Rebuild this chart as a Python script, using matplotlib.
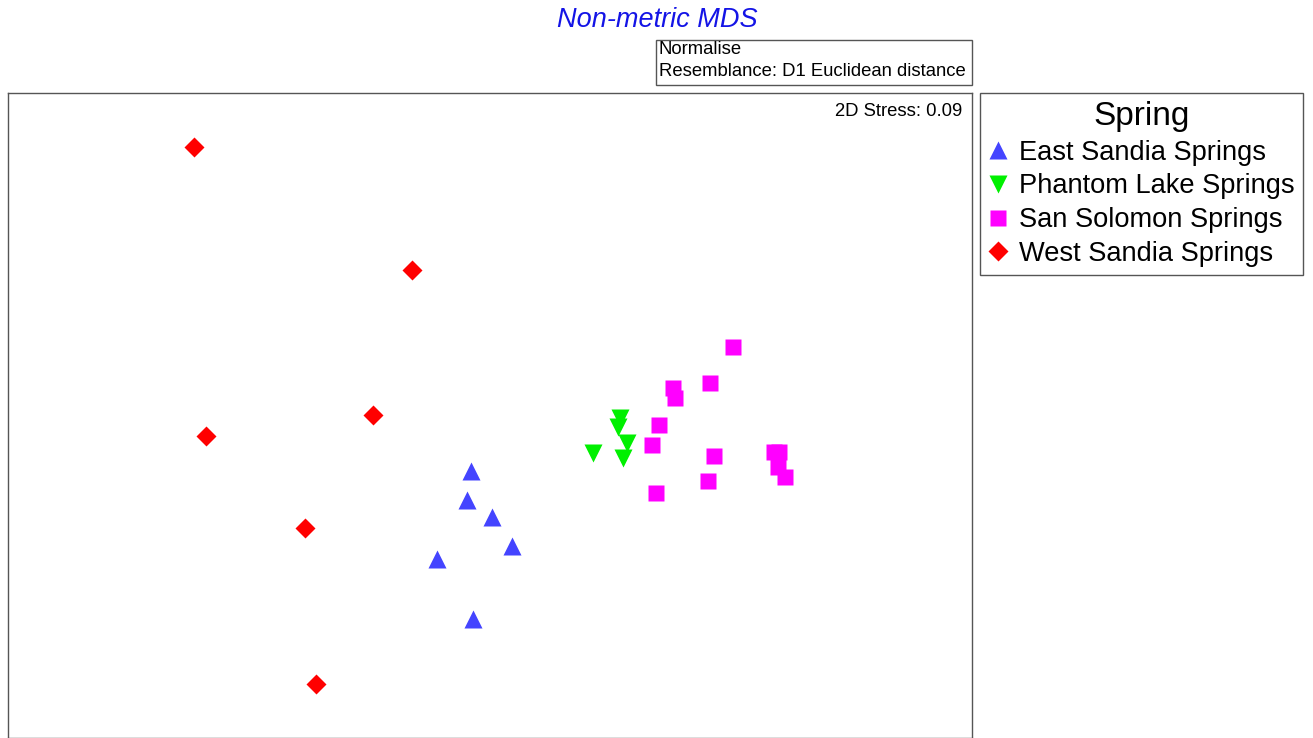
import matplotlib.pyplot as plt
from matplotlib.patches import Rectangle

plt.rcParams['font.family'] = ['Liberation Sans', 'DejaVu Sans']

# MDS ordination coordinates (arbitrary units)
east_x = [-0.095, -0.115, 0.01, 0.11, -0.265, -0.085]
east_y = [-0.28, -0.425, -0.51, -0.655, -0.72, -1.02]

phantom_x = [0.65, 0.64, 0.685, 0.515, 0.665]
phantom_y = [-0.015, -0.06, -0.14, -0.19, -0.215]

solomon_x = [1.215, 1.1, 0.915, 0.925, 0.845, 0.81, 1.12, 1.09, 0.83, 1.42, 1.445, 1.44, 1.475]
solomon_y = [0.34, 0.16, 0.135, 0.085, -0.05, -0.15, -0.205, -0.33, -0.39, -0.185, -0.185, -0.26, -0.31]

west_x = [-1.48, -0.39, -0.585, -1.42, -0.925, -0.87]
west_y = [1.34, 0.725, 0.0, -0.105, -0.565, -1.345]

groups = ['East Sandia Springs', 'Phantom Lake Springs', 'San Solomon Springs', 'West Sandia Springs']

fig = plt.figure(figsize=(13.13, 7.38), dpi=100)
ax = fig.add_axes([8 / 1313, 0.0, 964 / 1313, 1 - 93 / 738])

ax.plot(east_x, east_y, '^', color='#4444FF', ms=13, mec='none', label=groups[0])
ax.plot(phantom_x, phantom_y, 'v', color='#00F000', ms=13, mec='none', label=groups[1])
ax.plot(solomon_x, solomon_y, 's', color='#FF00FF', ms=11.5, mec='none', label=groups[2])
ax.plot(west_x, west_y, 'D', color='#FF0000', ms=10, mec='none', label=groups[3])

ax.set_xlim(-2.41, 2.41)
ax.set_ylim(-1.615, 1.61)
ax.set_xticks([])
ax.set_yticks([])
for sp in ax.spines.values():
    sp.set_color('#555555')
    sp.set_linewidth(1)

ax.text(0.99, 0.985, '2D Stress: 0.09', transform=ax.transAxes, ha='right', va='top', fontsize=13.3)

fig.text(657 / 1313, 1 - 20 / 738, 'Non-metric MDS', ha='center', va='center',
         fontsize=19.5, style='italic', color='#1414E6')

# annotation box
fig.patches.append(Rectangle((656 / 1313, 1 - 85 / 738), 316 / 1313, 45 / 738,
                             transform=fig.transFigure, fill=False, ec='#555555', lw=1))
fig.text(659 / 1313, 1 - 50 / 738, 'Normalise', va='center', fontsize=13.3)
fig.text(659 / 1313, 1 - 72 / 738, 'Resemblance: D1 Euclidean distance', va='center', fontsize=13.3)

leg = fig.legend(loc='upper left', bbox_to_anchor=(980 / 1313, 1 - 93 / 738), borderaxespad=0,
                 title='Spring', fontsize=19.6, title_fontsize=24, frameon=True, fancybox=False,
                 handlelength=0.7, handletextpad=0.45, labelspacing=0.28, borderpad=0.3,
                 edgecolor='#555555', framealpha=1)
leg.get_frame().set_linewidth(1)

fig.savefig('out.png', dpi=100)
